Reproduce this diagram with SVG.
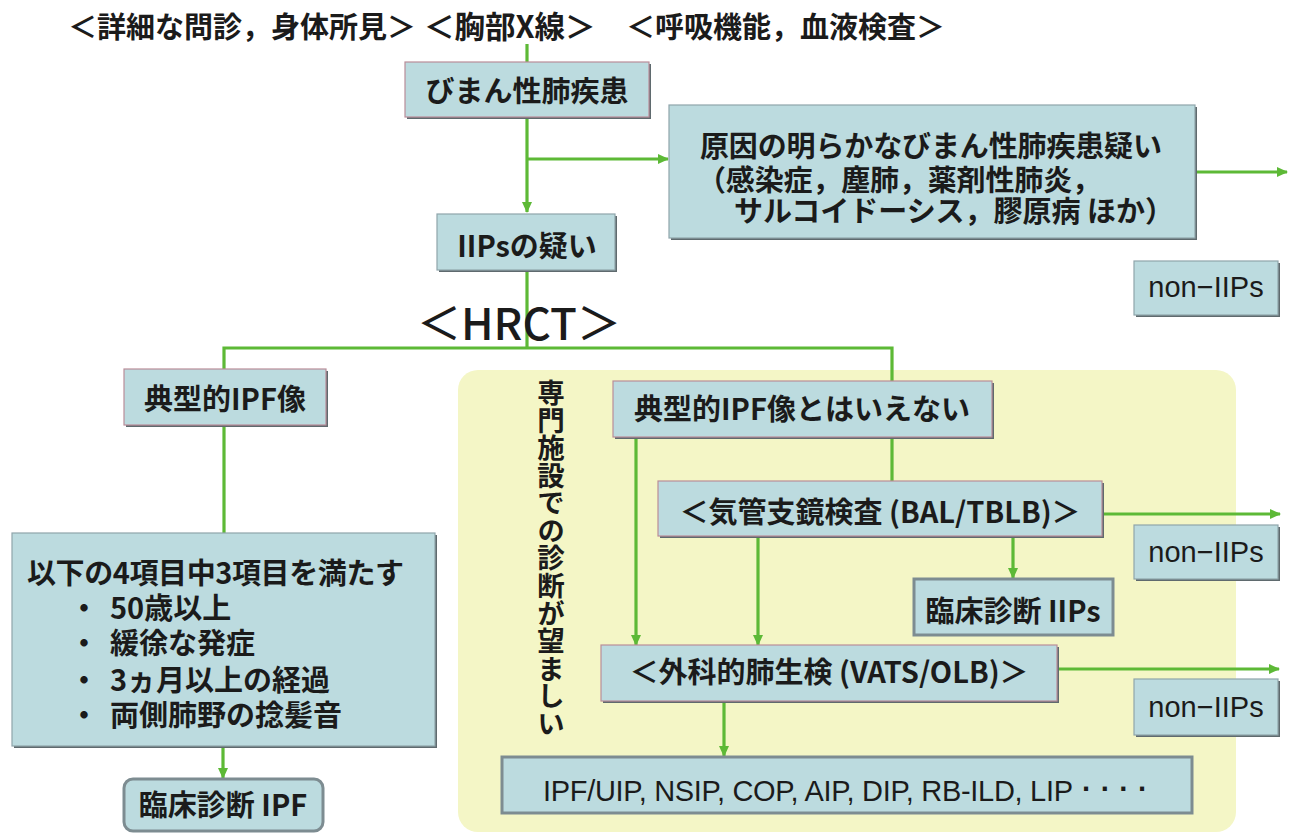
<svg xmlns="http://www.w3.org/2000/svg" width="1289" height="833" viewBox="0 0 1289 833">
<defs>
<style>
.bg{fill:#ffffff}
.yel{fill:#F4F6C6}
.sh{fill:#5f6a6e}
.box{fill:#BCDBDF;stroke:#8fa5ab;stroke-width:1.2}
.pk{stroke:#b98d99}
.gb{stroke:#7d8c91;stroke-width:3}
.ln{stroke:#5DB936;stroke-width:3.2;fill:none}
.t{font-family:"Noto Sans CJK JP","Liberation Sans",sans-serif;font-size:29px;font-weight:700;fill:#1b1b1b;text-anchor:middle}
.s{text-anchor:start}
.lat{font-family:"Liberation Sans","Noto Sans CJK JP",sans-serif;font-weight:400}
</style>
<marker id="ah" markerUnits="userSpaceOnUse" markerWidth="11" markerHeight="10" refX="10" refY="5" orient="auto">
<path d="M0,0 L11,5 L0,10 Z" fill="#5DB936"/>
</marker>
</defs>
<rect class="bg" x="0" y="0" width="1289" height="833"/>
<rect class="yel" x="458" y="370" width="778" height="462" rx="20"/>

<g id="connectors">
<path class="ln" d="M527,44 V62"/>
<path class="ln" d="M527,117 V212" marker-end="url(#ah)"/>
<path class="ln" d="M527,159 H668" marker-end="url(#ah)"/>
<path class="ln" d="M1195,172 H1287" marker-end="url(#ah)"/>
<path class="ln" d="M527,272 V348"/>
<path class="ln" d="M224,369 V348 H892 V381"/>
<path class="ln" d="M224,426 V533"/>
<path class="ln" d="M892,437 V481"/>
<path class="ln" d="M1102,514 H1280" marker-end="url(#ah)"/>
<path class="ln" d="M1013,536 V578" marker-end="url(#ah)"/>
<path class="ln" d="M636,437 V645" marker-end="url(#ah)"/>
<path class="ln" d="M758,536 V645" marker-end="url(#ah)"/>
<path class="ln" d="M1057,669 H1279" marker-end="url(#ah)"/>
<path class="ln" d="M724,702 V756" marker-end="url(#ah)"/>
<path class="ln" d="M223,747 V778" marker-end="url(#ah)"/>
</g>

<g id="header">
<text class="t s" x="68" y="38">＜詳細な問診，身体所見＞</text>
<text class="t s" x="424" y="38" style="font-size:30.5px">＜胸部X線＞</text>
<text class="t s" x="626" y="38">＜呼吸機能，血液検査＞</text>
</g>

<g id="n-diffuse">
<rect class="sh" x="407" y="64" width="244" height="55"/>
<rect class="box pk" x="405" y="62" width="244" height="55"/>
<text class="t" x="527" y="102">びまん性肺疾患</text>
</g>

<g id="n-known-cause">
<rect class="sh" x="671" y="107" width="526" height="133"/>
<rect class="box" x="669" y="105" width="526" height="133"/>
<text class="t s" x="700" y="157" textLength="462">原因の明らかなびまん性肺疾患疑い</text>
<text class="t s" x="697" y="191" textLength="404">（感染症，塵肺，薬剤性肺炎，</text>
<text class="t s" x="734" y="222" textLength="440">サルコイドーシス，膠原病 ほか）</text>
</g>

<g id="n-iips-suspect">
<rect class="sh" x="439" y="216" width="178" height="56"/>
<rect class="box" x="437" y="214" width="178" height="56"/>
<text class="t" x="527" y="257">IIPsの疑い</text>
</g>

<g id="n-nonIIPs-1">
<rect class="sh" x="1136" y="263" width="144" height="54"/>
<rect class="box" x="1134" y="261" width="144" height="54"/>
<text class="t lat" x="1206" y="297">non−IIPs</text>
</g>

<g id="hrct">
<text class="t" x="519" y="340" style="font-size:44px;font-weight:500">＜HRCT＞</text>
</g>

<g id="n-typical">
<rect class="sh" x="126" y="371" width="202" height="56"/>
<rect class="box pk" x="124" y="369" width="202" height="56"/>
<text class="t" x="225" y="410">典型的IPF像</text>
</g>

<g id="n-criteria">
<rect class="sh" x="14" y="535" width="423" height="213"/>
<rect class="box" x="12" y="533" width="423" height="213"/>
<text class="t s" x="27" y="584" textLength="377">以下の4項目中3項目を満たす</text>
<text class="t" x="84" y="619">・</text>
<text class="t s" x="110" y="619">50歳以上</text>
<text class="t" x="84" y="654">・</text>
<text class="t s" x="110" y="654">緩徐な発症</text>
<text class="t" x="84" y="691">・</text>
<text class="t s" x="110" y="691">3ヵ月以上の経過</text>
<text class="t" x="84" y="726">・</text>
<text class="t s" x="110" y="726">両側肺野の捻髪音</text>
</g>

<g id="n-ipf-clinical">
<rect class="box gb" x="124" y="779" width="199" height="52" rx="9"/>
<text class="t" x="223" y="816">臨床診断 IPF</text>
</g>

<g id="specialist-note">
<text class="t s" x="551" y="379" textLength="358" style="font-size:27.5px;writing-mode:vertical-rl">専門施設での診断が望ましい</text>
</g>

<g id="n-not-typical">
<rect class="sh" x="615" y="383" width="379" height="56"/>
<rect class="box pk" x="613" y="381" width="379" height="56"/>
<text class="t" x="802" y="420">典型的IPF像とはいえない</text>
</g>

<g id="n-bronchoscopy">
<rect class="sh" x="660" y="483" width="444" height="55"/>
<rect class="box pk" x="658" y="481" width="444" height="55"/>
<text class="t" x="880" y="523">＜気管支鏡検査 (BAL/TBLB)＞</text>
</g>

<g id="n-nonIIPs-2">
<rect class="sh" x="1136" y="527" width="144" height="54"/>
<rect class="box" x="1134" y="525" width="144" height="54"/>
<text class="t lat" x="1206" y="562">non−IIPs</text>
</g>

<g id="n-iips-clinical">
<rect class="box gb" x="914" y="579" width="199" height="56"/>
<text class="t" x="1013" y="622">臨床診断 IIPs</text>
</g>

<g id="n-surgical">
<rect class="sh" x="603" y="647" width="456" height="56"/>
<rect class="box pk" x="601" y="645" width="456" height="56"/>
<text class="t" x="829" y="683">＜外科的肺生検 (VATS/OLB)＞</text>
</g>

<g id="n-nonIIPs-3">
<rect class="sh" x="1136" y="681" width="144" height="56"/>
<rect class="box" x="1134" y="679" width="144" height="56"/>
<text class="t lat" x="1206" y="717">non−IIPs</text>
</g>

<g id="n-final">
<rect class="box gb" x="502" y="757" width="690" height="56"/>
<text class="t lat s" x="543" y="801" textLength="530">IPF/UIP, NSIP, COP, AIP, DIP, RB-ILD, LIP</text>
<text class="t s" x="1082" y="799" style="font-family:'Liberation Sans',sans-serif;letter-spacing:9px">····</text>
</g>
</svg>
